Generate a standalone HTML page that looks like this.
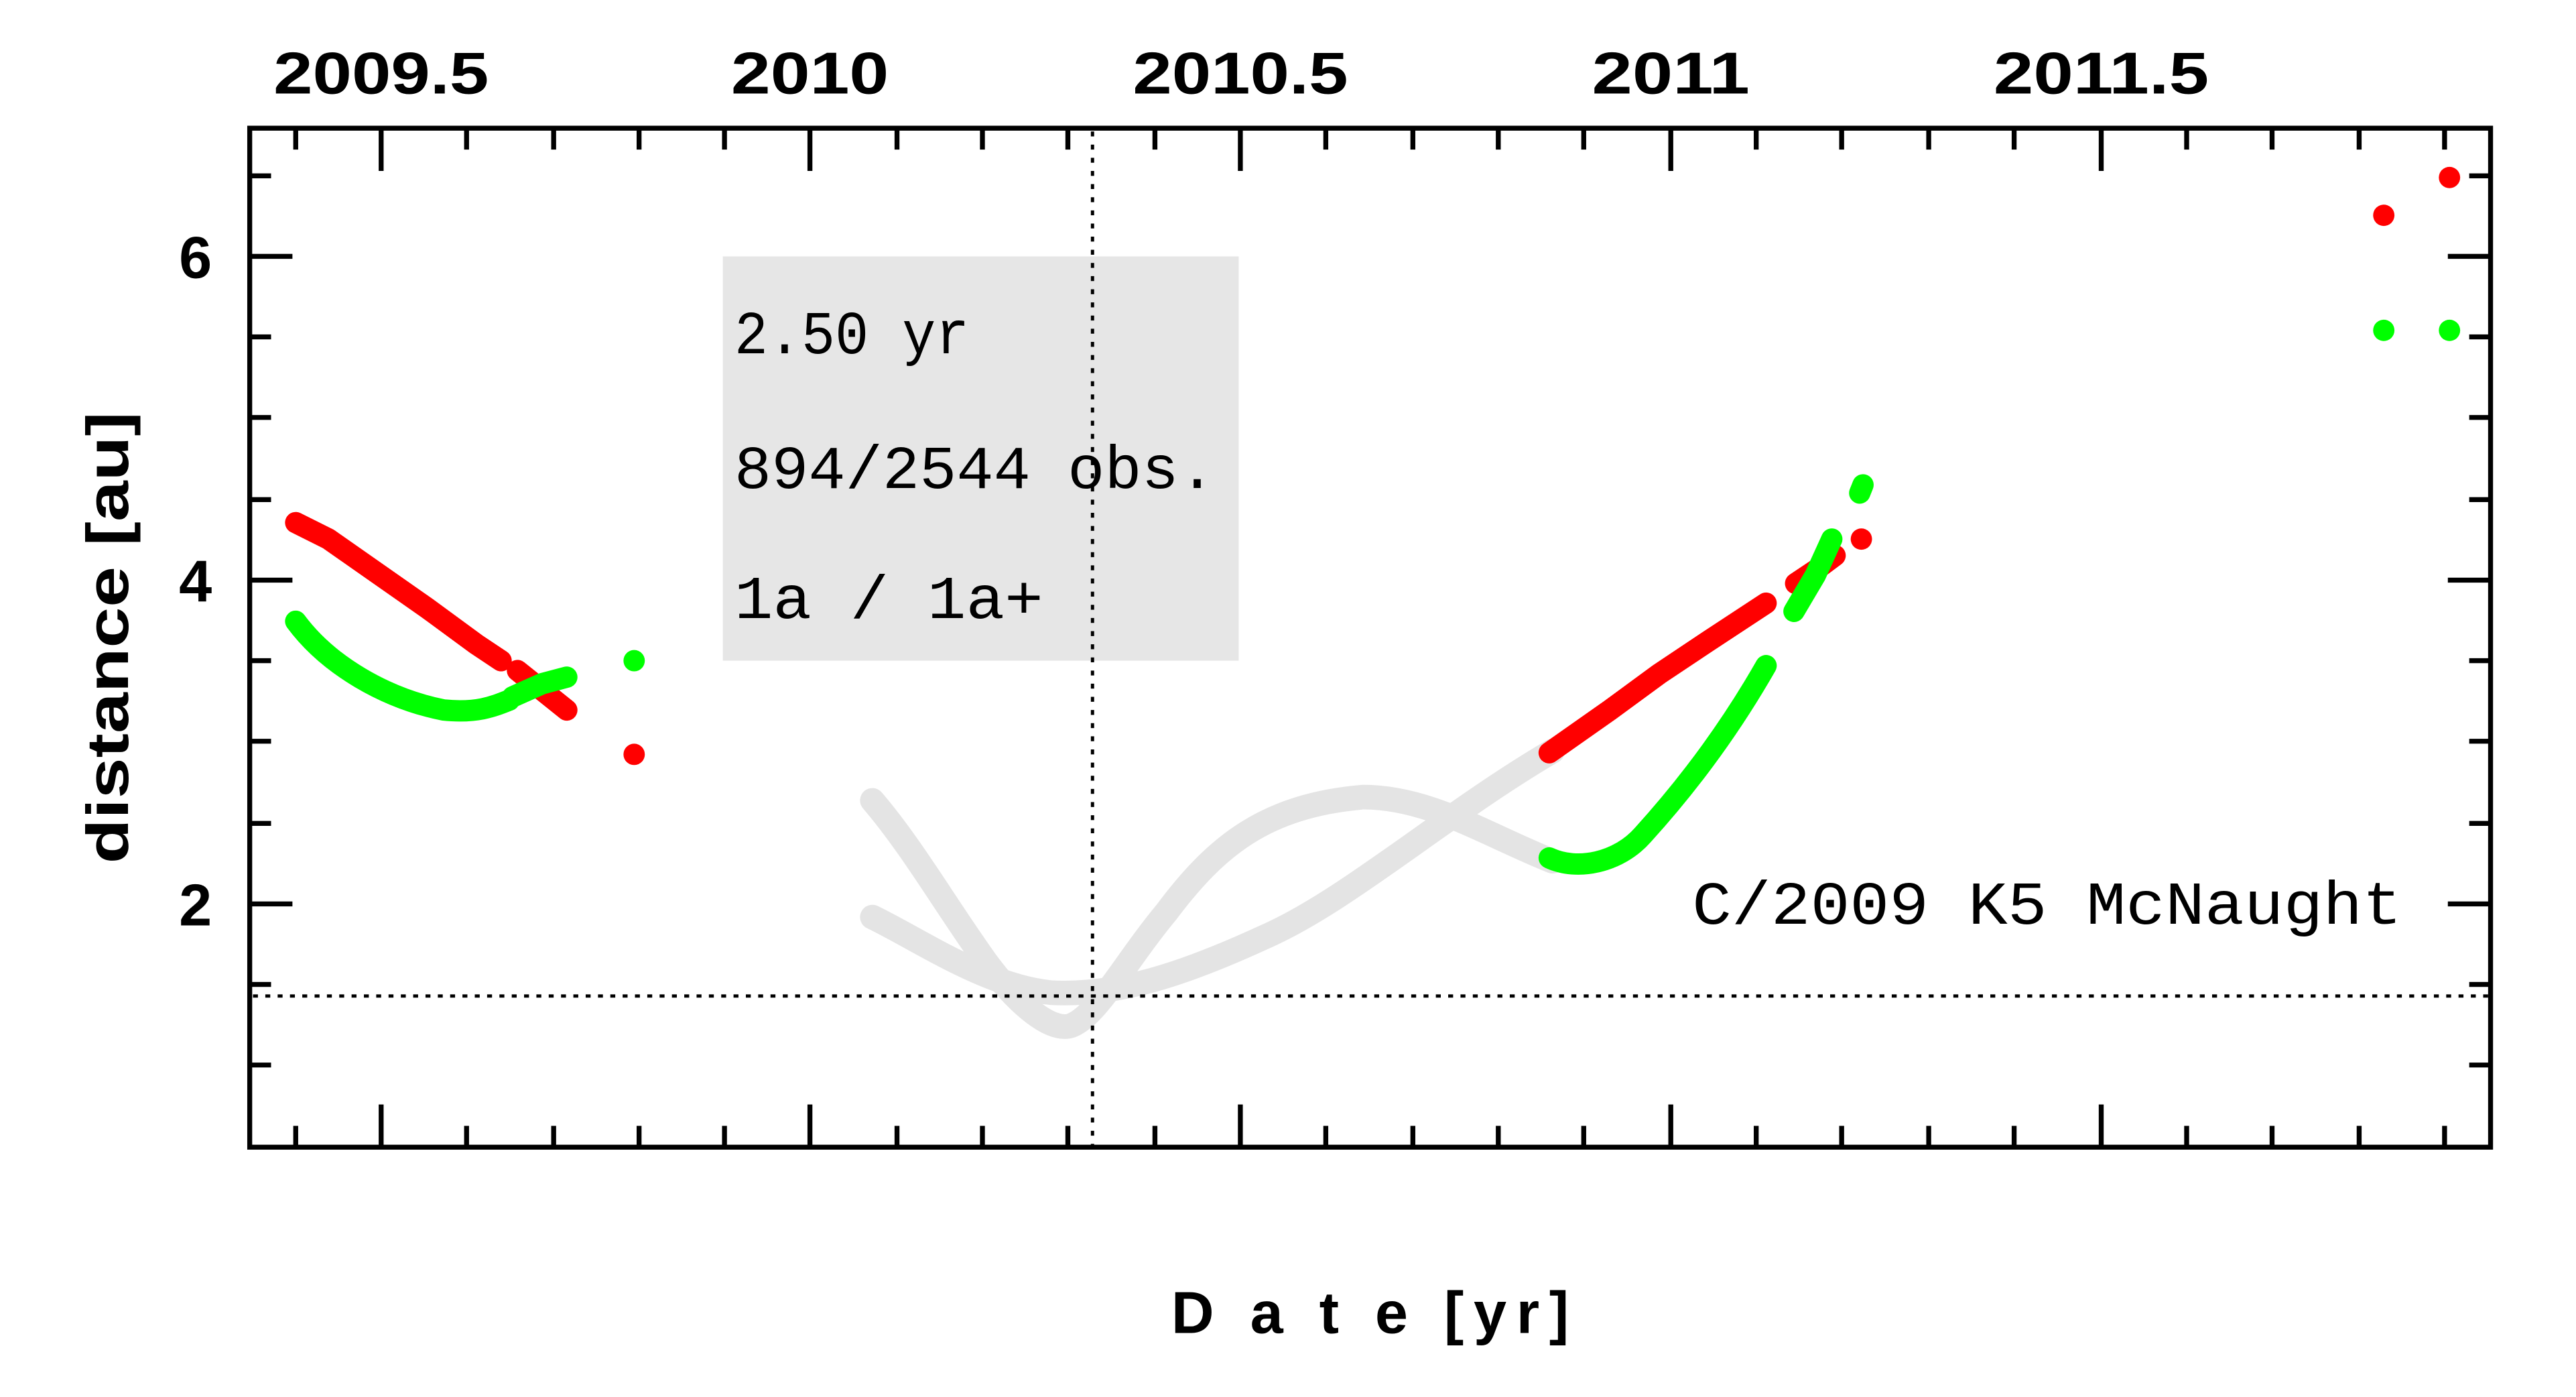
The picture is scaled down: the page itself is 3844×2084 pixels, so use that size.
<!DOCTYPE html>
<html><head><meta charset="utf-8"><style>html,body{margin:0;padding:0;background:#fff}svg{display:block}</style></head>
<body>
<svg width="3844" height="2084" viewBox="0 0 1568 850" preserveAspectRatio="none" xmlns="http://www.w3.org/2000/svg">
<rect x="440" y="156" width="314" height="246" fill="#e6e6e6"/>
<g fill="none" stroke-linecap="round" stroke-linejoin="round">
<g stroke="#e4e4e4" stroke-width="15">
<path d="M531,487 C555,515 575,550 600,585 C620,612 640,628 652,624 C668,618 685,585 710,555 C740,515 770,490 830,485 C870,485 905,508 945,524"/>
<path d="M531,558 C560,572 600,600 640,604 C680,606 720,593 770,570 C820,548 880,495 945,457"/>
</g>
<g stroke="#ff0000" stroke-width="13">
<polyline points="180,318 200,328 230,349 260,370 290,392 305,402"/>
<polyline points="315,408 330,420 345,432"/>
<polyline points="943,458 980,432 1010,410 1040,390 1075,367"/>
<polyline points="1093,355 1105,347 1117,338"/>
</g>
<g stroke="#00ff00" stroke-width="13">
<path d="M180,378 C200,405 235,425 270,432 C290,434 300,430 310,426"/>
<polyline points="312,424 330,416 345,412"/>
<path d="M943,522 C960,530 985,525 1000,508 C1030,475 1055,440 1075,405"/>
<polyline points="1092,372 1105,350 1115,328"/>
<polyline points="1132,300 1134,295"/>
</g>
</g>
<g fill="#ff0000"><circle cx="386" cy="459" r="6.5"/><circle cx="1133" cy="328" r="6.5"/><circle cx="1451" cy="131" r="6.5"/><circle cx="1491" cy="108" r="6.5"/></g>
<g fill="#00ff00"><circle cx="386" cy="402" r="6.5"/><circle cx="1451" cy="201" r="6.5"/><circle cx="1491" cy="201" r="6.5"/></g>
<g stroke="#000" stroke-width="2" stroke-dasharray="3,5">
<line x1="665" y1="80" x2="665" y2="697"/>
<line x1="154" y1="606" x2="1515" y2="606" stroke-dasharray="3,4.5"/>
</g>
<g stroke="#000" stroke-width="3">
<rect x="152" y="78" width="1364" height="620" fill="none"/>
<path d="M180,78v13M232,78v26M284,78v13M337,78v13M389,78v13M441,78v13M493,78v26M546,78v13M598,78v13M650,78v13M703,78v13M755,78v26M807,78v13M860,78v13M912,78v13M964,78v13M1017,78v26M1069,78v13M1121,78v13M1174,78v13M1226,78v13M1279,78v26M1331,78v13M1383,78v13M1436,78v13M1488,78v13"/>
<path d="M180,698v-13M232,698v-26M284,698v-13M337,698v-13M389,698v-13M441,698v-13M493,698v-26M546,698v-13M598,698v-13M650,698v-13M703,698v-13M755,698v-26M807,698v-13M860,698v-13M912,698v-13M964,698v-13M1017,698v-26M1069,698v-13M1121,698v-13M1174,698v-13M1226,698v-13M1279,698v-26M1331,698v-13M1383,698v-13M1436,698v-13M1488,698v-13"/>
<path d="M152,107h13M152,156h26M152,205h13M152,254h13M152,304h13M152,353h26M152,402h13M152,451h13M152,501h13M152,550h26M152,599h13M152,648h13"/>
<path d="M1516,107h-13M1516,156h-26M1516,205h-13M1516,254h-13M1516,304h-13M1516,353h-26M1516,402h-13M1516,451h-13M1516,501h-13M1516,550h-26M1516,599h-13M1516,648h-13"/>
</g>
<g font-family="Liberation Sans, sans-serif" font-weight="bold" font-size="36" fill="#000" text-anchor="middle">
<text x="232" y="57" textLength="131" lengthAdjust="spacingAndGlyphs">2009.5</text>
<text x="493" y="57" textLength="96" lengthAdjust="spacingAndGlyphs">2010</text>
<text x="755" y="57" textLength="131" lengthAdjust="spacingAndGlyphs">2010.5</text>
<text x="1017" y="57" textLength="96" lengthAdjust="spacingAndGlyphs">2011</text>
<text x="1279" y="57" textLength="131" lengthAdjust="spacingAndGlyphs">2011.5</text>
<text x="119" y="169">6</text><text x="119" y="366">4</text><text x="119" y="563">2</text>
<text transform="translate(78,388) rotate(-90)" textLength="275" lengthAdjust="spacingAndGlyphs">distance [au]</text>
<text x="834" y="811" textLength="242" lengthAdjust="spacing">D a t e [yr]</text>
</g>
<g font-family="Liberation Mono, monospace" font-size="37" fill="#000">
<text x="447" y="215" textLength="143" lengthAdjust="spacingAndGlyphs">2.50 yr</text>
<text x="447" y="297" textLength="293" lengthAdjust="spacingAndGlyphs">894/2544 obs.</text>
<text x="447" y="376" textLength="188" lengthAdjust="spacingAndGlyphs">1a / 1a+</text>
<text x="1030" y="562" textLength="432" lengthAdjust="spacingAndGlyphs">C/2009 K5 McNaught</text>
</g>
</svg>
</body></html>
